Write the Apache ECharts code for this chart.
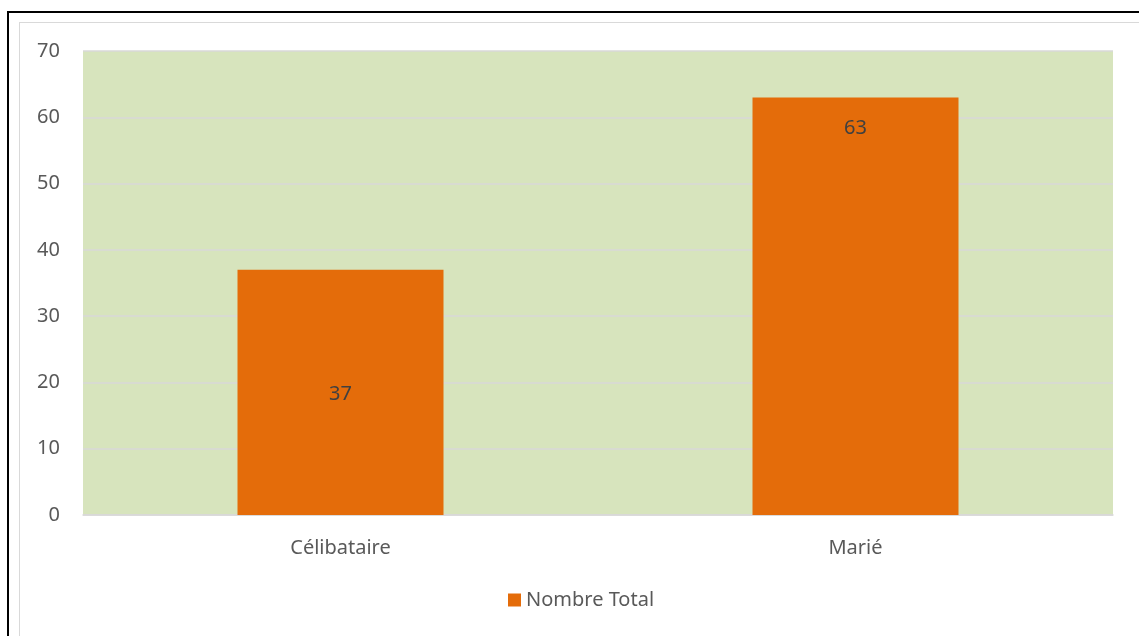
<!DOCTYPE html>
<html>
<head>
<meta charset="utf-8">
<script src="https://cdn.jsdelivr.net/npm/echarts@6/dist/echarts.min.js"></script>
<style>
  html, body { margin: 0; padding: 0; background: #fff; overflow: hidden; }
  #frame { position: absolute; left: 7px; top: 11px; width: 1300px; height: 800px; border: 2px solid #000; }
  #inner { position: absolute; left: 19px; top: 22px; width: 1300px; height: 800px; border: 1.5px solid #d9d9d9; }
  #chart { position: absolute; left: 0; top: 0; width: 1139px; height: 636px; }
</style>
</head>
<body>
<div id="frame"></div>
<div id="inner"></div>
<div id="chart"></div>
<script>
// Situation familiale
const categories = ['Célibataire', 'Marié'];
const seriesName = 'Nombre Total';
const values = [37, 63];
const labelPositions = ['inside', 'insideTop'];

const textFont = 'Noto Sans, Open Sans, sans-serif';
const chart = echarts.init(document.getElementById('chart'), null, { renderer: 'canvas' });

chart.setOption({
  animation: false,
  backgroundColor: 'transparent',
  grid: {
    left: 83, right: 26, top: 51, bottom: 121,
    show: true, backgroundColor: '#D7E4BD', borderWidth: 0
  },
  legend: {
    top: 585, left: 503,
    itemWidth: 13, itemHeight: 13,
    icon: 'rect',
    textStyle: { color: '#595959', fontSize: 20, fontFamily: textFont, padding: [3, 0, 0, 0] },
    data: [seriesName]
  },
  xAxis: {
    type: 'category',
    data: categories,
    axisLine: { show: true, lineStyle: { color: '#d9d9d9', width: 1.5 } },
    axisTick: { show: false },
    axisLabel: { color: '#595959', fontSize: 20, fontFamily: textFont, margin: 23 }
  },
  yAxis: {
    type: 'value',
    min: 0, max: 70, interval: 10,
    axisLine: { show: false },
    axisTick: { show: false },
    axisLabel: { color: '#595959', fontSize: 20, fontFamily: textFont, margin: 23, padding: [4, 0, 0, 0] },
    splitLine: { show: true, lineStyle: { color: '#d9d9d9', width: 1.5 } }
  },
  series: [{
    name: seriesName,
    type: 'bar',
    barWidth: '40%',
    itemStyle: { color: '#E46C0A' },
    data: values.map((v, i) => ({
      value: v,
      label: {
        show: true,
        position: labelPositions[i],
        distance: 19,
        offset: [0, 2],
        color: '#404040',
        fontSize: 20,
        fontFamily: textFont
      }
    }))
  }]
});
</script>
</body>
</html>
